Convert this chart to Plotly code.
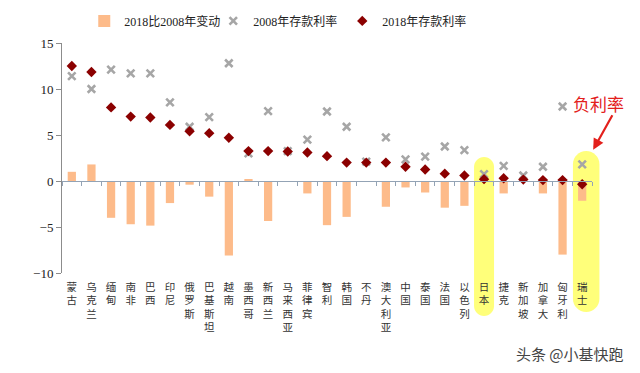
import plotly.graph_objects as go

categories = ['蒙古', '乌克兰', '缅甸', '南非', '巴西', '印尼', '俄罗斯', '巴基斯坦', '越南',
              '墨西哥', '新西兰', '马来西亚', '菲律宾', '智利', '韩国', '不丹', '澳大利亚',
              '中国', '泰国', '法国', '以色列', '日本', '捷克', '新加坡', '加拿大', '匈牙利', '瑞士']
change = [1.0, 1.8, -4.0, -4.7, -4.85, -2.4, -0.4, -1.7, -8.1,
          0.2, -4.35, -0.1, -1.35, -4.8, -3.9, -0.1, -2.8,
          -0.7, -1.25, -2.9, -2.7, 0.0, -1.35, 0.0, -1.35, -8.0, -2.15]
rate2008 = [11.4, 10.0, 12.1, 11.7, 11.7, 8.55, 5.9, 6.95, 12.8,
            3.0, 7.6, 3.25, 4.5, 7.55, 5.9, 2.1, 4.75,
            2.35, 2.65, 3.75, 3.35, 0.75, 1.65, 0.6, 1.55, 8.1, 1.8]
rate2018 = [12.5, 11.85, 8.0, 7.0, 6.9, 6.1, 5.4, 5.2, 4.7,
            3.25, 3.25, 3.2, 3.1, 2.7, 2.0, 2.0, 2.0,
            1.55, 1.25, 0.8, 0.6, 0.2, 0.3, 0.15, 0.1, 0.1, -0.35]
y_ticks = [-10, -5, 0, 5, 10, 15]
highlighted = ['日本', '瑞士']

YMIN, YMAX = -10, 15
n = len(categories)
SERIF = "'Liberation Serif', 'Times New Roman', 'Noto Sans CJK SC', serif"
CJK_SANS = "'Noto Sans CJK SC', sans-serif"

fig = go.Figure()
fig.add_trace(go.Bar(
    x=categories, y=change, name='2018比2008年变动',
    marker=dict(color='#FDBB8A', line=dict(width=0)), width=0.42,
    xaxis='x', yaxis='y'))
fig.add_trace(go.Scatter(
    x=categories, y=rate2008, name='2008年存款利率', mode='markers',
    marker=dict(symbol='x-thin', size=7.5, color='#A6A6A6',
                line=dict(color='#A6A6A6', width=2.6)),
    xaxis='x2', yaxis='y'))
fig.add_trace(go.Scatter(
    x=categories, y=rate2018, name='2018年存款利率', mode='markers',
    marker=dict(symbol='diamond', size=8, color='#8B0000'),
    xaxis='x2', yaxis='y'))

zero_pos = (0 - YMIN) / (YMAX - YMIN)


def stadium(xoff, w, top, bottom):
    r = w / 2.0
    k = 0.5523 * r
    xl, xr = xoff - r, xoff + r
    return (f"M {xl},{top - r} C {xl},{top - r + k} {xoff - k},{top} {xoff},{top} "
            f"C {xoff + k},{top} {xr},{top - r + k} {xr},{top - r} "
            f"L {xr},{bottom + r} C {xr},{bottom + r - k} {xoff + k},{bottom} {xoff},{bottom} "
            f"C {xoff - k},{bottom} {xl},{bottom + r - k} {xl},{bottom + r} Z")


hl_geom = {'日本': (0, 20, 116, -43), '瑞士': (4, 26.5, 122, -39)}
shapes = []
for c in highlighted:
    idx = categories.index(c)
    xo, w, t, b = hl_geom[c]
    shapes.append(dict(type='path', xref='paper', yref='paper',
                       xsizemode='pixel', ysizemode='pixel',
                       xanchor=(idx + 0.5) / n, yanchor=0,
                       path=stadium(xo, w, t, b),
                       fillcolor='#FFFF7A', line=dict(width=0), layer='below'))

fig.update_layout(
    width=640, height=373,
    margin=dict(l=62, r=48, t=43, b=100, autoexpand=False),
    paper_bgcolor='white', plot_bgcolor='rgba(0,0,0,0)',
    font=dict(family=SERIF, size=13, color='#222222'),
    showlegend=True,
    legend=dict(orientation='h', x=0.042, xanchor='left', y=1.096, yanchor='middle',
                font=dict(family=SERIF, size=12, color='#222222'),
                itemwidth=30, entrywidth=84, bgcolor='rgba(0,0,0,0)', tracegroupgap=0),
    bargap=0.5,
    xaxis=dict(type='category', categoryorder='array', categoryarray=categories,
               range=[-0.5, n - 0.5], showline=False, ticks='', showgrid=False,
               zeroline=False, tickmode='array', tickvals=categories,
               ticktext=['<br>'.join(c) for c in categories],
               tickfont=dict(family=SERIF, size=10.5, color='#333333'),
               ticklabelstandoff=6),
    xaxis2=dict(type='category', categoryorder='array', categoryarray=categories,
                overlaying='x', anchor='free', position=zero_pos,
                range=[-0.5, n - 0.5], showline=True, linecolor='#93A3B5', linewidth=1,
                ticks='outside', tickson='boundaries', ticklen=4, tickcolor='#93A3B5',
                showticklabels=False, showgrid=False, zeroline=False),
    yaxis=dict(range=[YMIN, YMAX], tickvals=y_ticks, showgrid=False, zeroline=False,
               showline=True, linecolor='#8C8C8C', linewidth=1,
               ticks='outside', ticklen=5, tickcolor='#8C8C8C',
               tickfont=dict(family=SERIF, size=13, color='#222222')),
    shapes=shapes,
)

sw = categories.index('瑞士')
fig.add_annotation(x=categories[sw], y=3.4, xref='x2', yref='y', text='', xshift=11,
                   showarrow=True, arrowhead=2, arrowsize=1, arrowwidth=2.2,
                   arrowcolor='#E3201C', ax=20, ay=-36)
fig.add_annotation(x=categories[sw], y=8.4, xref='x2', yref='y', text='负利率', xshift=16,
                   showarrow=False, font=dict(family=CJK_SANS, size=17, color='#E3201C'))
fig.add_annotation(x=0.958, y=-0.352, xref='paper', yref='paper', text='头条 @小基快跑',
                   xanchor='center', yanchor='middle',
                   showarrow=False, font=dict(family=CJK_SANS, size=15, color='#444444'))

fig.write_html("out.html", config={'displayModeBar': False},
               post_script="document.body.style.margin='0px';")
